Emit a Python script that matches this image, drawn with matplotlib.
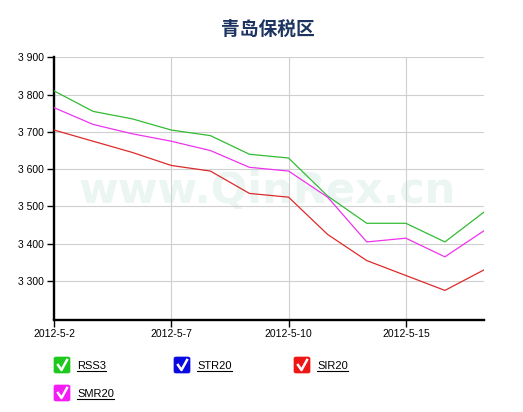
import matplotlib.pyplot as plt
from matplotlib.patches import FancyBboxPatch
from matplotlib.lines import Line2D

plt.rcParams['font.family'] = ['Liberation Sans', 'DejaVu Sans']

dates = ['2012-5-2', '2012-5-3', '2012-5-4', '2012-5-7', '2012-5-8', '2012-5-9',
         '2012-5-10', '2012-5-11', '2012-5-14', '2012-5-15', '2012-5-16', '2012-5-17']
rss3 = [3810, 3755, 3735, 3705, 3690, 3640, 3630, 3528, 3455, 3455, 3405, 3485]
smr20 = [3765, 3720, 3695, 3675, 3650, 3605, 3595, 3525, 3405, 3415, 3365, 3435]
sir20 = [3705, 3675, 3645, 3610, 3595, 3535, 3525, 3425, 3355, 3315, 3275, 3330]
yticks = [3300, 3400, 3500, 3600, 3700, 3800, 3900]

series = [('RSS3', rss3, '#33bb33'), ('SMR20', smr20, '#ee33ee'), ('SIR20', sir20, '#dd2a2a')]
legend_items = [('RSS3', '#1ec81e'), ('STR20', '#0a0ae0'), ('SIR20', '#ee1515'), ('SMR20', '#f41cf4')]

fig = plt.figure(figsize=(5.23, 4.12), dpi=100)
ax = fig.add_axes([54 / 523, 1 - 319.5 / 412, 430 / 523, 262.2 / 412])

x = list(range(len(dates)))
# faint watermark
ax.text(5.45, 3509, 'www.QinRex.cn', fontsize=31, fontweight='bold', color='#ebf5f2',
        ha='center', va='baseline', zorder=0, family=['DejaVu Sans'])

for name, vals, c in series:
    ax.plot(x, vals, color=c, lw=0.9, zorder=3)

ax.set_xlim(0, 11)
ax.set_ylim(3197, 3900)
ax.set_yticks(yticks)
ax.set_yticklabels(['{:,}'.format(v).replace(',', ' ') for v in yticks])
tick_idx = [0, 3, 6, 9]
ax.set_xticks(tick_idx)
ax.set_xticklabels([dates[i] for i in tick_idx])
ax.tick_params(labelsize=7.5, length=5, width=1, color='black', pad=2)
ax.grid(True, color='#cfcfcf', lw=0.8)
ax.set_axisbelow(True)
for s in ['top', 'right']:
    ax.spines[s].set_visible(False)
for s in ['left', 'bottom']:
    ax.spines[s].set_linewidth(1.7)

fig.text(268 / 523, 1 - 29 / 412, '青岛保税区', family=['Noto Sans CJK SC'], fontweight='bold',
         fontsize=13.5, color='#1d3461', ha='center', va='center')

# legend with check boxes
slots = [(54, 357), (174, 357), (294, 357), (54, 385)]
renderer = fig.canvas.get_renderer()
for (name, c), (px, py) in zip(legend_items, slots):
    fx, fy = px / 523, 1 - (py + 16) / 412
    box = FancyBboxPatch((fx, fy), 16 / 523, 16 / 412, boxstyle='round,pad=0,rounding_size=0.004',
                         transform=fig.transFigure, facecolor=c, edgecolor=c, lw=0.5)
    fig.patches.append(box)
    ck = Line2D([(px + 4) / 523, (px + 7.5) / 523, (px + 13) / 523],
                [1 - (py + 8) / 412, 1 - (py + 13) / 412, 1 - (py + 3) / 412],
                transform=fig.transFigure, color='white', lw=1.8)
    fig.lines.append(ck)
    t = fig.text((px + 23) / 523, 1 - (py + 9) / 412, name, fontsize=8, va='center', ha='left')
    bb = t.get_window_extent(renderer)
    uy = 1 - (py + 14) / 412
    fig.lines.append(Line2D([bb.x0 / 523, bb.x1 / 523], [uy, uy], transform=fig.transFigure,
                            color='black', lw=0.8))

fig.savefig('out.png', dpi=100)
